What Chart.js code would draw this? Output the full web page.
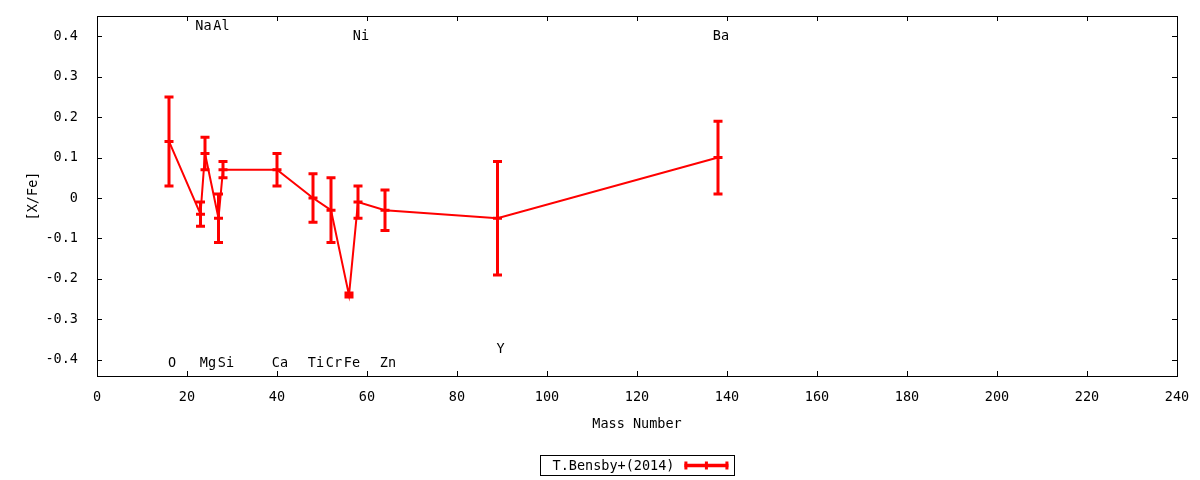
<!DOCTYPE html>
<html>
<head>
<meta charset="utf-8">
<title>[X/Fe] vs Mass Number</title>
<script src="https://cdn.jsdelivr.net/npm/chart.js@4.4.0/dist/chart.umd.min.js"></script>
<style>
  html, body { margin: 0; padding: 0; background: #fff; }
  #chart { display: block; }
</style>
</head>
<body>
<canvas id="chart" width="1200" height="480"></canvas>
<script>
// data
const elements    = ["O", "Na", "Mg", "Al", "Si", "Ca", "Ti", "Cr", "Fe", "Ni", "Zn", "Y", "Ba"];
const massNumbers = [16, 23, 24, 27, 28, 40, 48, 52, 56, 58, 64, 89, 138];
const xFe         = [0.14, -0.04, 0.11, -0.05, 0.07, 0.07, 0.00, -0.03, -0.24, -0.01, -0.03, -0.05, 0.10];
const xFeErr      = [0.11, 0.03, 0.04, 0.06, 0.02, 0.04, 0.06, 0.08, 0.005, 0.04, 0.05, 0.14, 0.09];
const labelY      = [-0.41, 0.425, -0.41, 0.425, -0.41, -0.41, -0.41, -0.41, -0.41, 0.40, -0.41, -0.375, 0.40];
const xTicks      = [0, 20, 40, 60, 80, 100, 120, 140, 160, 180, 200, 220, 240];
const yTicks      = [-0.4, -0.3, -0.2, -0.1, 0, 0.1, 0.2, 0.3, 0.4];
const seriesName  = "T.Bensby+(2014)";

const RED = "#ff0000";
const FONT = "13.5px 'DejaVu Sans Mono', monospace";

Chart.defaults.font.family = "'DejaVu Sans Mono', monospace";
Chart.defaults.font.size = 13.5;
Chart.defaults.color = "#000";

// frame + inward tick marks on all four sides (gnuplot look)
const framePlugin = {
  id: "frame",
  beforeDatasetsDraw(chart) {
    const { ctx, chartArea: a, scales: { x, y } } = chart;
    const tl = 5;
    ctx.save();
    ctx.strokeStyle = "#000";
    ctx.lineWidth = 1;
    ctx.beginPath();
    xTicks.forEach(v => {
      const px = Math.round(x.getPixelForValue(v)) + 0.5;
      ctx.moveTo(px, a.bottom); ctx.lineTo(px, a.bottom - tl);
      ctx.moveTo(px, a.top); ctx.lineTo(px, a.top + tl);
    });
    yTicks.forEach(v => {
      const py = Math.round(y.getPixelForValue(v)) + 0.5;
      ctx.moveTo(a.left, py); ctx.lineTo(a.left + tl, py);
      ctx.moveTo(a.right, py); ctx.lineTo(a.right - tl, py);
    });
    ctx.stroke();
    ctx.strokeRect(Math.round(a.left) + 0.5, Math.round(a.top) + 0.5,
                   Math.round(a.width), Math.round(a.height));
    ctx.restore();
  }
};

// vertical error bars with caps and a centre tick
const errorBarPlugin = {
  id: "errorBars",
  afterDatasetsDraw(chart) {
    const { ctx, scales: { x, y } } = chart;
    const hw = 4.5;
    ctx.save();
    ctx.strokeStyle = RED;
    ctx.lineWidth = 3;
    ctx.lineCap = "butt";
    massNumbers.forEach((m, i) => {
      const px = x.getPixelForValue(m);
      const pc = y.getPixelForValue(xFe[i]);
      const pt = y.getPixelForValue(xFe[i] + xFeErr[i]);
      const pb = y.getPixelForValue(xFe[i] - xFeErr[i]);
      ctx.beginPath();
      ctx.moveTo(px, pt - 1.5); ctx.lineTo(px, pb + 1.5);
      ctx.moveTo(px - hw, pt); ctx.lineTo(px + hw, pt);
      ctx.moveTo(px - hw, pb); ctx.lineTo(px + hw, pb);
      ctx.moveTo(px - hw, pc); ctx.lineTo(px + hw, pc);
      ctx.stroke();
    });
    ctx.restore();
  }
};

// element names + gnuplot style key
const labelPlugin = {
  id: "labels",
  afterDraw(chart) {
    const { ctx, chartArea: a, scales: { x, y } } = chart;
    ctx.save();
    ctx.font = FONT;
    ctx.fillStyle = "#000";
    ctx.textAlign = "center";
    ctx.textBaseline = "middle";
    elements.forEach((el, i) => {
      ctx.fillText(el, x.getPixelForValue(massNumbers[i]) + 3, y.getPixelForValue(labelY[i]));
    });

    // key box under the axis title
    const textW = ctx.measureText(seriesName).width;
    const boxW = Math.round(textW + 72);
    const boxH = 20;
    const cx = (a.left + a.right) / 2;
    const bx = Math.round(cx - boxW / 2) + 0.5;
    const by = chart.height - 25 + 0.5;
    ctx.strokeStyle = "#000";
    ctx.lineWidth = 1;
    ctx.strokeRect(bx, by, boxW, boxH);
    const cy = by + boxH / 2;
    const tx = bx + 12 + textW;
    ctx.textAlign = "right";
    ctx.fillText(seriesName, tx, cy + 1);
    const s0 = tx + 10, s1 = s0 + 44;
    ctx.strokeStyle = RED;
    ctx.lineWidth = 3.5;
    ctx.beginPath();
    ctx.moveTo(s0, cy); ctx.lineTo(s1, cy);
    ctx.stroke();
    ctx.lineWidth = 3;
    ctx.beginPath();
    [s0 + 1.5, (s0 + s1) / 2, s1 - 1.5].forEach(sx => {
      ctx.moveTo(sx, cy - 4); ctx.lineTo(sx, cy + 4);
    });
    ctx.stroke();
    ctx.restore();
  }
};

const points = massNumbers.map((m, i) => ({ x: m, y: xFe[i] }));

new Chart(document.getElementById("chart"), {
  type: "line",
  data: {
    datasets: [{
      label: seriesName,
      data: points,
      borderColor: RED,
      backgroundColor: RED,
      borderWidth: 2,
      pointRadius: 0,
      tension: 0,
      fill: false
    }]
  },
  options: {
    responsive: false,
    animation: false,
    devicePixelRatio: 1,
    layout: { padding: { top: 16, right: 23, left: 0, bottom: 0 } },
    plugins: {
      legend: { display: false },
      tooltip: { enabled: false }
    },
    scales: {
      x: {
        type: "linear",
        min: 0,
        max: 240,
        afterBuildTicks: s => { s.ticks = xTicks.map(v => ({ value: v })); },
        afterFit: s => { s.height = 104; },
        grid: { display: false },
        border: { display: false },
        ticks: { padding: 5, maxRotation: 0, autoSkip: false, color: "#000" },
        title: {
          display: true,
          text: "Mass Number",
          color: "#000",
          padding: { top: 0, bottom: 47 }
        }
      },
      y: {
        type: "linear",
        min: -0.44,
        max: 0.45,
        afterBuildTicks: s => { s.ticks = yTicks.map(v => ({ value: v })); },
        afterFit: s => { s.width = 97; s.paddingTop = 0; s.paddingBottom = 0; },
        grid: { display: false },
        border: { display: false },
        ticks: {
          padding: 11,
          color: "#000",
          callback: v => String(Math.round(v * 10) / 10)
        },
        title: {
          display: true,
          text: "[X/Fe]",
          color: "#000",
          padding: { top: 25, bottom: 0 }
        }
      }
    }
  },
  plugins: [framePlugin, errorBarPlugin, labelPlugin]
});
</script>
</body>
</html>
